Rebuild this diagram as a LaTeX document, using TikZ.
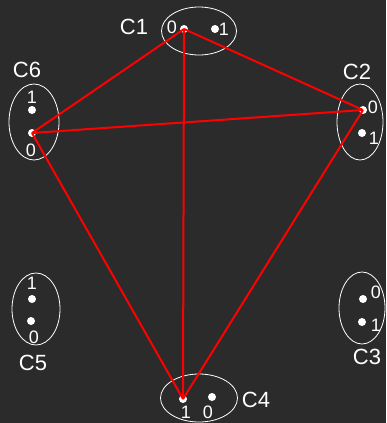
\documentclass[tikz,border=0pt]{standalone}
\usepackage{fontspec}
\setmainfont{Liberation Sans}
\usetikzlibrary{shapes.geometric}
\definecolor{bgcol}{HTML}{2B2B2B}
\definecolor{edgered}{HTML}{FF0000}
\begin{document}
\begin{tikzpicture}[x=1pt, y=-1pt,
  cluster/.style={draw=white, ellipse, line width=0.8pt, inner sep=0pt},
  vtx/.style={circle, fill=white, inner sep=0pt, minimum size=8pt},
  bit/.style={text=white, font=\fontsize{18}{18}\selectfont, inner sep=0pt},
  cname/.style={text=white, font=\fontsize{22}{22}\selectfont, inner sep=0pt},
  link/.style={edgered, line width=2pt}]
\fill[bgcol] (0,0) rectangle (386,423);
\useasboundingbox (0,0) rectangle (386,423);
% clusters
\node[cluster, minimum width=75pt, minimum height=48pt] (C1) at (199,31) {};
\node[cluster, minimum width=46pt, minimum height=76pt] (C2) at (360,122) {};
\node[cluster, minimum width=46pt, minimum height=72pt] (C3) at (362,308) {};
\node[cluster, minimum width=77pt, minimum height=48pt] (C4) at (199,398) {};
\node[cluster, minimum width=48pt, minimum height=72pt] (C5) at (36,309) {};
\node[cluster, minimum width=50pt, minimum height=76pt] (C6) at (34,122) {};
% cluster names
\node[cname] (n1) at (134,27) {C1};
\node[cname] (n2) at (357,72) {C2};
\node[cname] (n3) at (367,357) {C3};
\node[cname] (n4) at (256,400) {C4};
\node[cname] (n5) at (33,363) {C5};
\node[cname] (n6) at (27,70) {C6};
% vertices
\node[vtx] (v10) at (184,29) {};
\node[vtx] (v11) at (215,29) {};
\node[vtx] (v20) at (363,110) {};
\node[vtx] (v21) at (362,133) {};
\node[vtx] (v30) at (363,299) {};
\node[vtx] (v31) at (362,322) {};
\node[vtx] (v41) at (183,399) {};
\node[vtx] (v40) at (212,397) {};
\node[vtx] (v51) at (32,299) {};
\node[vtx] (v50) at (31,321) {};
\node[vtx] (v61) at (32,110) {};
\node[vtx] (v60) at (32,133) {};
% bit labels
\node[bit] (b10) at (172,27) {0};
\node[bit] (b11) at (224,29) {1};
\node[bit] (b20) at (373,107) {0};
\node[bit] (b21) at (374,138) {1};
\node[bit] (b30) at (376,292) {0};
\node[bit] (b31) at (376,325) {1};
\node[bit] (b41) at (186,412) {1};
\node[bit] (b40) at (208,412) {0};
\node[bit] (b51) at (32,283) {1};
\node[bit] (b50) at (34,337) {0};
\node[bit] (b61) at (32,97) {1};
\node[bit] (b60) at (31,150) {0};
% chosen vertices
\draw[link] (v10.center) -- (v20.center);
\draw[link] (v10.center) -- (v60.center);
\draw[link] (v10.center) -- (v41.center);
\draw[link] (v20.center) -- (v60.center);
\draw[link] (v20.center) -- (v41.center);
\draw[link] (v60.center) -- (v41.center);
\end{tikzpicture}
\end{document}
